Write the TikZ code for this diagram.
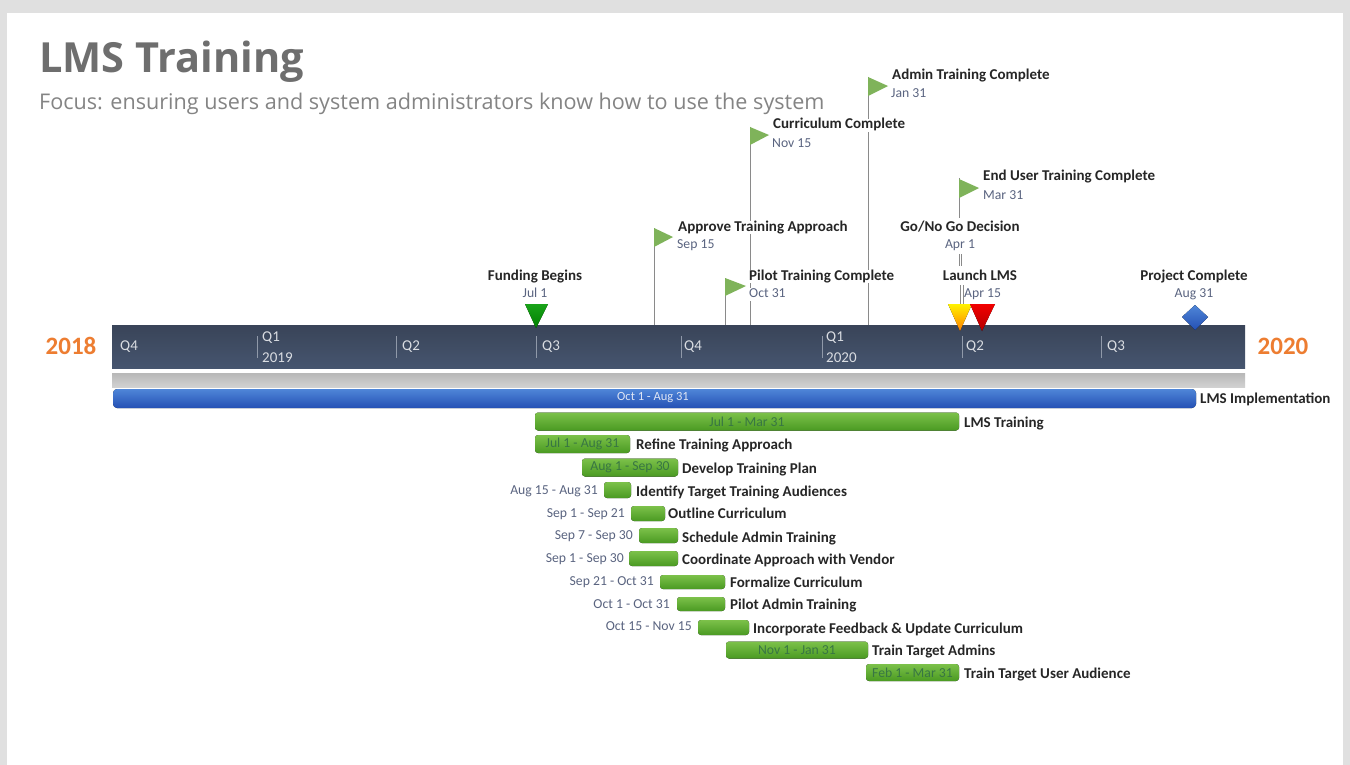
\documentclass[tikz,border=0pt]{standalone}
\usepackage{fontspec}
\setmainfont{Carlito}
\newfontfamily\titlefont{Open Sans}
\definecolor{bandt}{HTML}{394458}
\definecolor{bandb}{HTML}{46556F}
\definecolor{titlec}{HTML}{6E6E6E}
\definecolor{yearc}{HTML}{ED7D31}
\definecolor{datec}{HTML}{5A6480}
\definecolor{greent}{HTML}{7CC14A}
\definecolor{greenb}{HTML}{4A9A22}
\definecolor{flagc}{HTML}{7FB35A}
\definecolor{polec}{HTML}{8A8A8A}
\definecolor{bluet}{HTML}{4F86D8}
\definecolor{blueb}{HTML}{2450B4}
\tikzset{
 lab/.style={font=\fontsize{15}{16}\selectfont\bfseries,text=black!85,inner sep=0pt,anchor=west,text height=10pt,text depth=3pt,yshift=-1.5pt},
 clab/.style={lab,anchor=center},
 dat/.style={font=\fontsize{13.7}{14}\selectfont,text=datec,inner sep=0pt,anchor=west,text height=9.5pt,text depth=3pt,yshift=-1.5pt},
 cdat/.style={dat,anchor=center},
 rdat/.style={dat,anchor=east},
 bardat/.style={font=\fontsize{13.7}{14}\selectfont,text=black!15!greenb!75!blueb,inner sep=0pt},
 qlab/.style={font=\fontsize{15}{16}\selectfont,text=white!80!bandb,inner sep=0pt,anchor=west},
 ylab/.style={font=\fontsize{25}{26}\selectfont\bfseries,text=yearc,inner sep=0pt},
 pole/.style={draw=polec,line width=1pt},
 tick/.style={draw=white!40!bandb,line width=.8pt},
 gbar/.style={rounded corners=3pt,top color=greent,bottom color=greenb,draw=none},
 flag/.style={fill=flagc,draw=none},
}
\newcommand{\gb}[5]{% name, x1, x2, yc, half height
 \fill[gbar] (#2,#4-#5) rectangle (#3,#4+#5);
 \coordinate (#1) at ({(#2+#3)/2},#4);
}
\begin{document}
\begin{tikzpicture}[x=1pt,y=-1pt]
\useasboundingbox (0,0) rectangle (1350,765);
\fill[black!12] (0,0) rectangle (1350,765);
\fill[white] (7,13) rectangle (1343,765);
% title
\node[font=\titlefont\fontsize{41.5}{44}\selectfont\bfseries,text=titlec,anchor=west,inner sep=0pt] (title) at (39,62) {LMS Training};
\node[font=\titlefont\fontsize{21.6}{24}\selectfont,text=titlec!85,anchor=west,inner sep=0pt] (subtitle) at (39,104) {Focus: ensuring users and system administrators know how to use the system};
% poles (behind band)
\coordinate (fA) at (868,77);
\coordinate (bA) at (868,326);
\coordinate (fC) at (750,127);
\coordinate (bC) at (750,326);
\coordinate (fE) at (959,178);
\coordinate (gA) at (959,218);
\coordinate (fT) at (654,228);
\coordinate (bT) at (654,326);
\coordinate (fP) at (725,278);
\coordinate (bP) at (725,326);
\coordinate (gB) at (959,254);
\coordinate (gC) at (959,266);
\coordinate (lA) at (963,285);
\coordinate (lB) at (963,310);
\coordinate (lC) at (960,285);
\coordinate (lD) at (960,310);
\draw[pole] (fA) -- (bA);
\draw[pole] (fC) -- (bC);
\draw[pole] (fE) -- (gA);
\draw[pole] (fT) -- (bT);
\draw[pole] (fP) -- (bP);
\draw[pole,line width=.7pt] (gB) -- (gC);
\draw[pole,line width=.7pt] ([xshift=2.5]gB) -- ([xshift=2.5]gC);
\draw[pole,line width=.7pt] (lC) -- (lD);
\draw[pole,line width=.7pt] (lA) -- (lB);
% flags
\fill[flag] (868,77) -- (888,86) -- (868,96) -- cycle;
\fill[flag] (750,127) -- (769,135) -- (750,145) -- cycle;
\fill[flag] (959,179) -- (979,188) -- (959,198) -- cycle;
\fill[flag] (654,228) -- (673,237) -- (654,247) -- cycle;
\fill[flag] (725,278) -- (746,286) -- (725,296) -- cycle;
% milestone labels
\node[lab] (a1) at (892,75) {Admin Training Complete};
\node[dat] (a2) at (891,93) {Jan 31};
\node[lab,fill=white] (c1) at (773,124) {Curriculum Complete};
\node[dat] (c2) at (772,143) {Nov 15};
\node[lab] (e1) at (983,175) {End User Training Complete};
\node[dat] (e2) at (983,195) {Mar 31};
\node[lab,fill=white] (t1) at (678,226) {Approve Training Approach};
\node[dat] (t2) at (677,244) {Sep 15};
\node[clab] (g1) at (960,226) {Go/No Go Decision};
\node[cdat] (g2) at (960,244) {Apr 1};
\node[lab,fill=white] (p1) at (749,275) {Pilot Training Complete};
\node[dat,fill=white] (p2) at (749,293) {Oct 31};
\node[clab] (l1) at (980,275) {Launch LMS};
\node[dat] (l2) at (964,293) {Apr 15};
\node[clab] (f1) at (535,275) {Funding Begins};
\node[cdat] (f2) at (535,293) {Jul 1};
\node[clab] (j1) at (1194,275) {Project Complete};
\node[cdat] (j2) at (1194,293) {Aug 31};
% band
\fill[top color=bandt,bottom color=bandb] (112,325) rectangle (1245,368);
\fill[top color=black!28,bottom color=black!18] (112,373) rectangle (1245,387);
\node[ylab] (y18) at (71,346) {2018};
\node[ylab] (y20) at (1283,346) {2020};
\foreach \n/\x in {a/257,b/396,c/536,d/681,e/822,f/962,g/1101}{
 \coordinate (t\n a) at (\x,336);
 \coordinate (t\n b) at (\x,358);
 \draw[tick] (t\n a) -- (t\n b);
}
\node[qlab] (q1) at (120,347) {Q4};
\node[qlab] (q2) at (262,338) {Q1};
\node[qlab] (q2y) at (262,358) {2019};
\node[qlab] (q3) at (402,347) {Q2};
\node[qlab] (q4) at (542,347) {Q3};
\node[qlab] (q5) at (684,347) {Q4};
\node[qlab] (q6) at (826,338) {Q1};
\node[qlab] (q6y) at (826,358) {2020};
\node[qlab] (q7) at (966,347) {Q2};
\node[qlab] (q8) at (1107,347) {Q3};
% milestone markers
\fill[top color=green!60!black!90,bottom color=green!50!black] (525,304) -- (548,304) -- (536,328) -- cycle;
\fill[top color=yellow!90!orange,bottom color=orange] (948,304) -- (972,304) -- (960,331) -- cycle;
\fill[top color=red!95!black,bottom color=red!70!black] (970,304) -- (995,304) -- (982,331) -- cycle;
\fill[top color=bluet,bottom color=blueb] (1195,305) -- (1208,317) -- (1195,330) -- (1182,317) -- cycle;
% blue bar
\fill[rounded corners=4pt,top color=bluet,bottom color=blueb] (113,389) rectangle (1196,408);
\node[font=\fontsize{12.5}{13}\selectfont,text=white!85!blueb,inner sep=0pt] (bd) at (653,398) {Oct 1 - Aug 31};
\node[lab] (bl) at (1200,398) {LMS Implementation};
% green bars
\gb{b1}{535}{959}{421.5}{9}
\gb{b2}{535}{630}{444}{9}
\gb{b3}{582}{678}{467.5}{9}
\gb{b4}{604}{631}{490}{8}
\gb{b5}{631}{665}{513.5}{7.5}
\gb{b6}{639}{678}{535.5}{7.5}
\gb{b7}{629}{678}{558.5}{7.5}
\gb{b8}{660}{725}{582}{7}
\gb{b9}{677}{725}{604}{7}
\gb{b10}{698}{749}{627.5}{7.5}
\gb{b11}{726}{868}{650}{8.5}
\gb{b12}{866}{959}{672.5}{8.5}
\node[bardat] (db1) at (b1) {Jul 1 - Mar 31};
\node[bardat] (db2) at (b2) {Jul 1 - Aug 31};
\node[bardat] (db3) at (b3) {Aug 1 - Sep 30};
\node[bardat] (db11) at (b11) {Nov 1 - Jan 31};
\node[bardat] (db12) at (b12) {Feb 1 - Mar 31};
\node[lab] (l1b) at (964,422) {LMS Training};
\node[lab] (l2b) at (636,444) {Refine Training Approach};
\node[lab] (l3b) at (682,468) {Develop Training Plan};
\node[lab] (l4b) at (636,491) {Identify Target Training Audiences};
\node[lab] (l5b) at (668,513) {Outline Curriculum};
\node[lab] (l6b) at (682,537) {Schedule Admin Training};
\node[lab] (l7b) at (682,559) {Coordinate Approach with Vendor};
\node[lab] (l8b) at (730,582) {Formalize Curriculum};
\node[lab] (l9b) at (730,604) {Pilot Admin Training};
\node[lab] (l10b) at (753,628) {Incorporate Feedback \& Update Curriculum};
\node[lab] (l11b) at (872,650) {Train Target Admins};
\node[lab] (l12b) at (964,673) {Train Target User Audience};
\node[rdat] (d4) at (598,490) {Aug 15 - Aug 31};
\node[rdat] (d5) at (625,513) {Sep 1 - Sep 21};
\node[rdat] (d6) at (633,535) {Sep 7 - Sep 30};
\node[rdat] (d7) at (624,558) {Sep 1 - Sep 30};
\node[rdat] (d8) at (654,581) {Sep 21 - Oct 31};
\node[rdat] (d9) at (670,604) {Oct 1 - Oct 31};
\node[rdat] (d10) at (692,626) {Oct 15 - Nov 15};
\end{tikzpicture}
\end{document}
